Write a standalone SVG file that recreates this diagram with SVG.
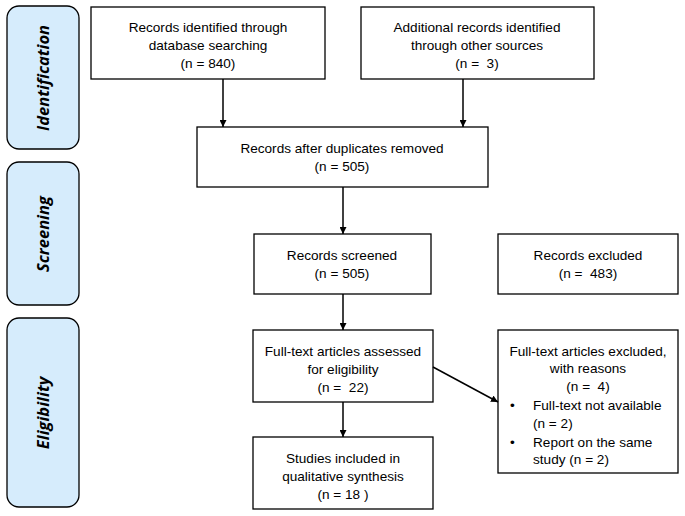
<svg xmlns="http://www.w3.org/2000/svg" width="685" height="516" viewBox="0 0 685 516">
<style>
.box{fill:#fff;stroke:#000;stroke-width:1.3}
.side{fill:#d6ecfc;stroke:#000;stroke-width:1.3}
.t{font-family:"Liberation Sans",Arial,sans-serif;font-size:13.6px;fill:#000;text-anchor:middle;white-space:pre}
.tl{font-family:"Liberation Sans",Arial,sans-serif;font-size:13.6px;fill:#000;white-space:pre}
.s{font-family:"Open Sans","Liberation Sans",sans-serif;font-size:16.5px;font-weight:bold;font-style:italic;fill:#000;text-anchor:middle}
.c{stroke:#000;stroke-width:1.5;fill:none;marker-end:url(#ah)}
</style>
<defs>
<marker id="ah" viewBox="0 0 10 10" refX="10" refY="5" markerWidth="7" markerHeight="7" markerUnits="userSpaceOnUse" orient="auto"><path d="M0,0L10,5L0,10z" fill="#000"/></marker>
</defs>
<rect width="685" height="516" fill="#fff"/>
<g id="identification"><rect class="side" x="7" y="6" width="72" height="143" rx="12"/><text class="s" transform="translate(49,78) rotate(-90)">Identification</text></g>
<g id="screening"><rect class="side" x="7" y="162" width="72" height="143" rx="12"/><text class="s" transform="translate(49,234) rotate(-90)">Screening</text></g>
<g id="eligibility"><rect class="side" x="7" y="318" width="72" height="189" rx="12"/><text class="s" transform="translate(49,413) rotate(-90)">Eligibility</text></g>

<g id="db"><rect class="box" x="91" y="7" width="234" height="72"/>
<text class="t" x="208" y="32">Records identified through</text><text class="t" x="208" y="50">database searching</text><text class="t" x="208" y="68">(n = 840)</text></g>
<g id="other"><rect class="box" x="361" y="7" width="233" height="72"/>
<text class="t" x="477" y="32">Additional records identified</text><text class="t" x="477" y="50">through other sources</text><text class="t" x="477" y="68">(n =  3)</text></g>
<g id="dup"><rect class="box" x="197" y="127" width="291" height="60"/>
<text class="t" x="342" y="153">Records after duplicates removed</text><text class="t" x="342" y="171">(n = 505)</text></g>
<g id="screened"><rect class="box" x="254" y="234" width="177" height="60"/>
<text class="t" x="342" y="260">Records screened</text><text class="t" x="342" y="278">(n = 505)</text></g>
<g id="excluded"><rect class="box" x="498" y="234" width="180" height="60"/>
<text class="t" x="588" y="260">Records excluded</text><text class="t" x="588" y="278">(n =  483)</text></g>
<g id="fulltext"><rect class="box" x="253" y="330" width="180" height="72"/>
<text class="t" x="343" y="356">Full-text articles assessed</text><text class="t" x="343" y="374">for eligibility</text><text class="t" x="343" y="392">(n =  22)</text></g>
<g id="ftexcluded"><rect class="box" x="498" y="330" width="180" height="143"/>
<text class="t" x="588" y="356">Full-text articles excluded,</text><text class="t" x="588" y="373">with reasons</text><text class="t" x="588" y="391">(n =  4)</text>
<text class="tl" x="510" y="410">•</text><text class="tl" x="533" y="410">Full-text not available</text><text class="tl" x="533" y="428">(n = 2)</text>
<text class="tl" x="510" y="447">•</text><text class="tl" x="533" y="447">Report on the same</text><text class="tl" x="533" y="464">study (n = 2)</text></g>
<g id="included"><rect class="box" x="253" y="437" width="180" height="72"/>
<text class="t" x="343" y="463">Studies included in</text><text class="t" x="343" y="481">qualitative synthesis</text><text class="t" x="343" y="499">(n = 18 )</text></g>

<g id="connectors">
<path class="c" d="M223,79V127"/>
<path class="c" d="M463,79V127"/>
<path class="c" d="M343,187V234"/>
<path class="c" d="M343,294V330"/>
<path class="c" d="M343,402V437"/>
<path class="c" d="M433,367L498,402"/>
</g>
</svg>
